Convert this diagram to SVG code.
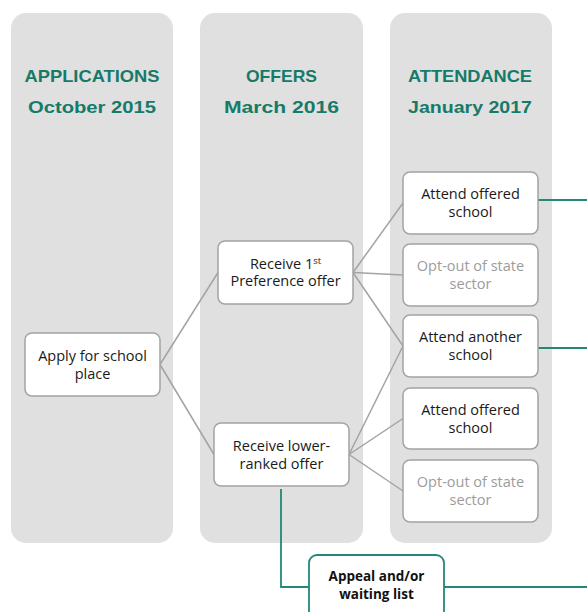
<svg xmlns="http://www.w3.org/2000/svg" width="587" height="612" viewBox="0 0 587 612">
  <style>
    .panel { fill: #e0e0e0; }
    .hdr { font-family: "Liberation Sans", Arial, sans-serif; font-weight: bold; font-size: 16.5px; fill: #167a69; text-anchor: middle; }
    .box { fill: #ffffff; stroke: #a3a3a3; stroke-width: 1.5; }
    .lbl { font-family: "Open Sans", "Liberation Sans", sans-serif; font-size: 14.5px; fill: #1a1a1a; text-anchor: middle; }
    .dim { fill: #9c9c9c; }
    .link { fill: none; stroke: #a3a3a3; stroke-width: 1.5; }
    .teal { fill: none; stroke: #23887a; stroke-width: 1.8; }
    .tbox { fill: #ffffff; stroke: #23887a; stroke-width: 1.8; }
    .bold { font-family: "Open Sans", "Liberation Sans", sans-serif; font-size: 13.5px; font-weight: bold; fill: #111111; text-anchor: middle; }
  </style>

  <!-- stage columns -->
  <g id="col-applications">
    <rect class="panel" x="11" y="13" width="162" height="530" rx="15"/>
    <text class="hdr" x="92" y="82" textLength="135" lengthAdjust="spacingAndGlyphs">APPLICATIONS</text>
    <text class="hdr" x="92" y="113" textLength="128" lengthAdjust="spacingAndGlyphs">October 2015</text>
  </g>
  <g id="col-offers">
    <rect class="panel" x="200" y="13" width="163" height="530" rx="15"/>
    <text class="hdr" x="281.5" y="82" textLength="71" lengthAdjust="spacingAndGlyphs">OFFERS</text>
    <text class="hdr" x="281.5" y="113" textLength="115" lengthAdjust="spacingAndGlyphs">March  2016</text>
  </g>
  <g id="col-attendance">
    <rect class="panel" x="390" y="13" width="162" height="530" rx="15"/>
    <text class="hdr" x="470" y="82" textLength="124" lengthAdjust="spacingAndGlyphs">ATTENDANCE</text>
    <text class="hdr" x="470" y="113" textLength="124" lengthAdjust="spacingAndGlyphs">January 2017</text>
  </g>

  <!-- connectors -->
  <g id="connectors">
    <path class="link" d="M160 364.5 L218 272.5"/>
    <path class="link" d="M160 364.5 L214 454.5"/>
    <path class="link" d="M353 272.5 L403 203"/>
    <path class="link" d="M353 272.5 L403 275"/>
    <path class="link" d="M353 272.5 L403 346"/>
    <path class="link" d="M349 454.5 L403 346"/>
    <path class="link" d="M349 454.5 L403 418.5"/>
    <path class="link" d="M349 454.5 L403 491"/>
    <path class="teal" d="M538 200 L587 200"/>
    <path class="teal" d="M538 348 L587 348"/>
    <path class="teal" d="M281 489 L281 587 L309 587"/>
    <path class="teal" d="M444 587 L587 587"/>
  </g>

  <!-- nodes -->
  <g id="apply">
    <rect class="box" x="25" y="333" width="135" height="63" rx="7"/>
    <text class="lbl" x="92.5" y="361">Apply for school</text>
    <text class="lbl" x="92.5" y="379">place</text>
  </g>
  <g id="first-pref">
    <rect class="box" x="218" y="241" width="135" height="63" rx="7"/>
    <text class="lbl" x="285.5" y="268.5">Receive 1<tspan font-size="9.5" dy="-5">st</tspan></text>
    <text class="lbl" x="285.5" y="286">Preference offer</text>
  </g>
  <g id="lower-ranked">
    <rect class="box" x="214" y="423" width="135" height="63" rx="7"/>
    <text class="lbl" x="281.5" y="450.5">Receive lower-</text>
    <text class="lbl" x="281.5" y="468.5">ranked offer</text>
  </g>
  <g id="attend-offered-1">
    <rect class="box" x="403" y="172" width="135" height="62" rx="7"/>
    <text class="lbl" x="470.5" y="199">Attend offered</text>
    <text class="lbl" x="470.5" y="217">school</text>
  </g>
  <g id="opt-out-1">
    <rect class="box" x="403" y="244" width="135" height="62" rx="7"/>
    <text class="lbl dim" x="470.5" y="271">Opt-out of state</text>
    <text class="lbl dim" x="470.5" y="289">sector</text>
  </g>
  <g id="attend-another">
    <rect class="box" x="403" y="315" width="135" height="62" rx="7"/>
    <text class="lbl" x="470.5" y="342">Attend another</text>
    <text class="lbl" x="470.5" y="360">school</text>
  </g>
  <g id="attend-offered-2">
    <rect class="box" x="403" y="388" width="135" height="61" rx="7"/>
    <text class="lbl" x="470.5" y="414.5">Attend offered</text>
    <text class="lbl" x="470.5" y="432.5">school</text>
  </g>
  <g id="opt-out-2">
    <rect class="box" x="403" y="460" width="135" height="62" rx="7"/>
    <text class="lbl dim" x="470.5" y="487">Opt-out of state</text>
    <text class="lbl dim" x="470.5" y="505">sector</text>
  </g>
  <g id="appeal">
    <rect class="tbox" x="309" y="555" width="135" height="70" rx="8"/>
    <text class="bold" x="376.5" y="581">Appeal and/or</text>
    <text class="bold" x="376.5" y="599">waiting list</text>
  </g>
</svg>
